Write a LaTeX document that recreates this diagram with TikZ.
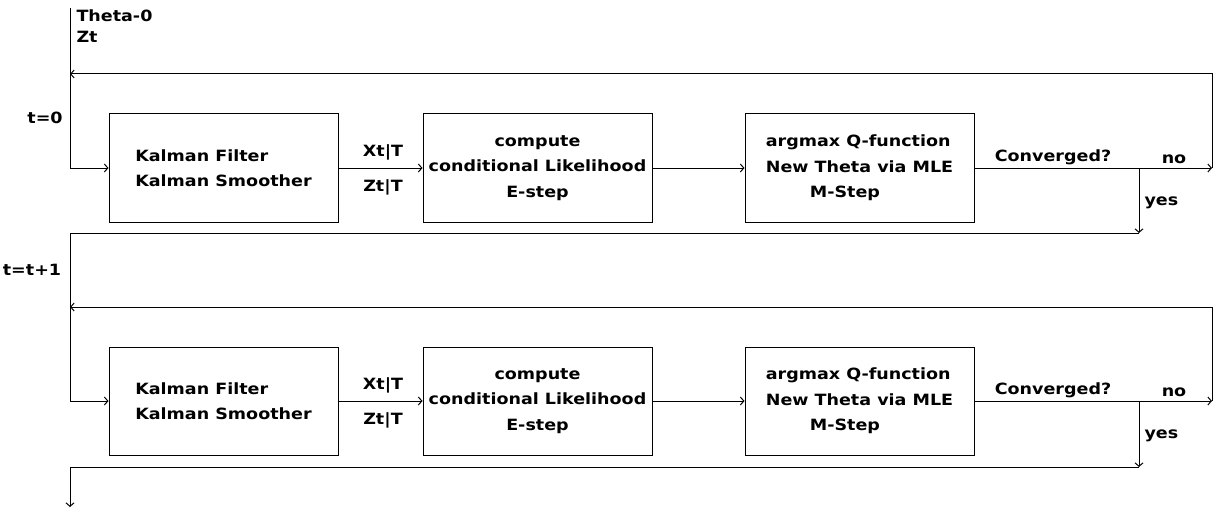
\documentclass[tikz,border=0pt]{standalone}
\usepackage{fontspec}
\setmainfont{DejaVu Sans}[FakeStretch=1.13]
\usetikzlibrary{arrows.meta}
\begin{document}
\begin{tikzpicture}[x=1pt,y=-1pt,
  line width=1pt,
  every node/.style={font=\bfseries\fontsize{15.5}{25.5}\selectfont, inner sep=0pt},
  arr/.style={-{Straight Barb[length=3.5pt,width=8pt,line width=1pt]}},
  procbox/.style={draw, minimum width=229pt, minimum height=108pt},
  lbl/.style={anchor=center}
]
\useasboundingbox (0,0) rectangle (1215,508);

% ---------- section 1 ----------
\coordinate (top) at (70,8);
\node[lbl, anchor=west] (theta) at (76,16) {Theta-0};
\node[lbl, anchor=west] (zt) at (76,37) {Zt};
\node[lbl] (t0) at (45,118) {t=0};

\node[procbox, align=left] (a1) at (223.5,168) {Kalman Filter\\Kalman Smoother};
\node[procbox, align=center] (a2) at (537.5,168) {compute\\conditional Likelihood\\E-step};
\node[procbox, align=left] (a3) at (859.5,168) {argmax Q-function\\New Theta via MLE\\\hspace{44pt}M-Step};

\node[lbl] (x1) at (383,152) {Xt|T};
\node[lbl] (z1) at (383,187) {Zt|T};
\node[lbl] (conv1) at (1053,157) {Converged?};
\node[lbl] (no1) at (1174,159) {no};
\node[lbl, anchor=west] (yes1) at (1144,203) {yes};

\coordinate (nr1) at (1212,168);
\coordinate (nt1) at (1212,74);
\coordinate (nl1) at (70,74);
\coordinate (ys1) at (1139,168);
\coordinate (ye1) at (1139,233);
\coordinate (yl1) at (70,233);

\draw[arr] (top) |- (a1.west);
\draw[arr] (a1.east) -- (a2.west);
\draw[arr] (a2.east) -- (a3.west);
\draw[arr] (a3.east) -- (nr1);
\draw[arr] (nr1) -- (nt1) -- (nl1);
\draw[arr] (ys1) -- (ye1);

% ---------- section 2 ----------
\node[lbl] (t1) at (32,270) {t=t+1};

\node[procbox, align=left] (b1) at (223.5,401) {Kalman Filter\\Kalman Smoother};
\node[procbox, align=center] (b2) at (537.5,401) {compute\\conditional Likelihood\\E-step};
\node[procbox, align=left] (b3) at (859.5,401) {argmax Q-function\\New Theta via MLE\\\hspace{44pt}M-Step};

\node[lbl] (x2) at (383,385) {Xt|T};
\node[lbl] (z2) at (383,420) {Zt|T};
\node[lbl] (conv2) at (1053,390) {Converged?};
\node[lbl] (no2) at (1174,392) {no};
\node[lbl, anchor=west] (yes2) at (1144,436) {yes};

\coordinate (nr2) at (1212,401);
\coordinate (nt2) at (1212,307);
\coordinate (nl2) at (70,307);
\coordinate (ys2) at (1139,401);
\coordinate (ye2) at (1139,467);
\coordinate (yl2) at (70,467);
\coordinate (out) at (70,507);

\draw[arr] (ye1) -- (yl1) |- (b1.west);
\draw[arr] (b1.east) -- (b2.west);
\draw[arr] (b2.east) -- (b3.west);
\draw[arr] (b3.east) -- (nr2);
\draw[arr] (nr2) -- (nt2) -- (nl2);
\draw[arr] (ys2) -- (ye2);
\draw[arr] (ye2) -- (yl2) -- (out);
\end{tikzpicture}
\end{document}
